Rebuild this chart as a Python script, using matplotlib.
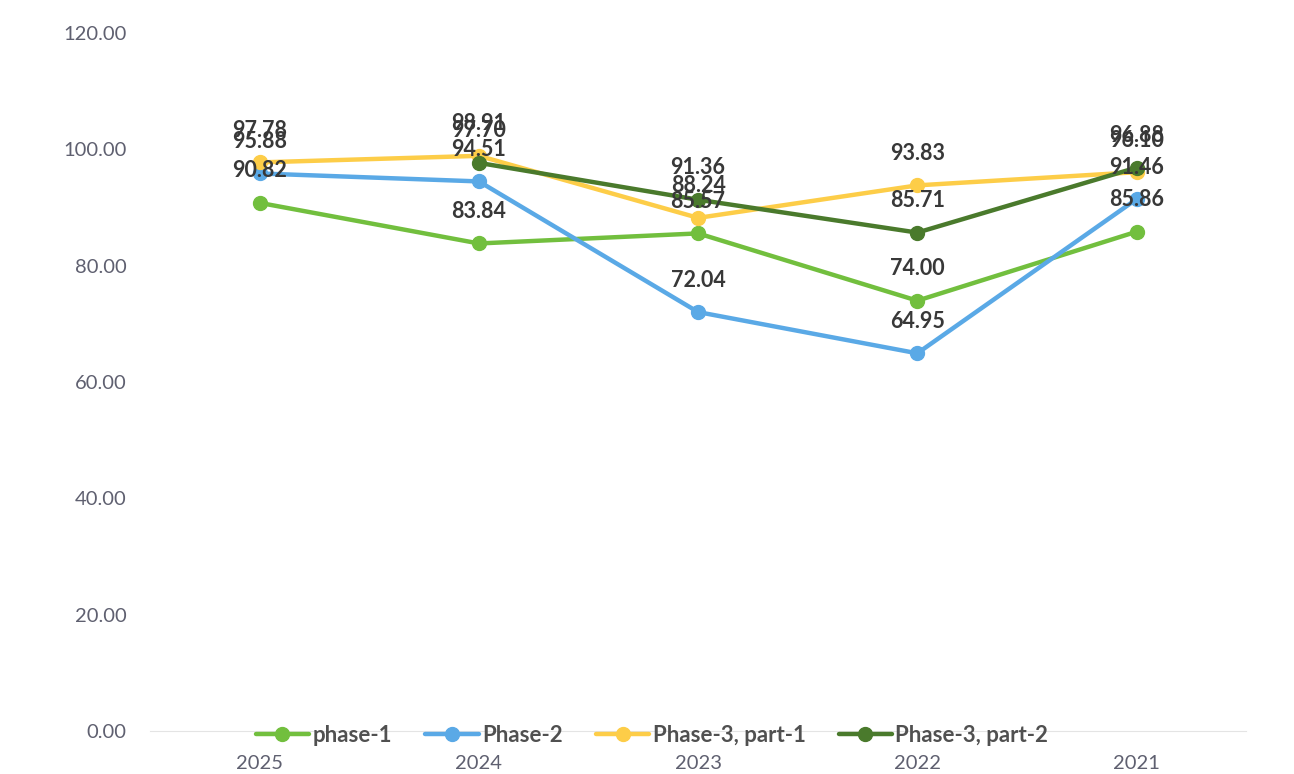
import matplotlib.pyplot as plt
import numpy as np

# chart data
years = ['2025', '2024', '2023', '2022', '2021']
phase_1 = [90.82, 83.84, 85.57, 74.00, 85.86]
phase_2 = [95.88, 94.51, 72.04, 64.95, 91.46]
phase_3_part_1 = [97.78, 98.91, 88.24, 93.83, 96.10]
phase_3_part_2 = [np.nan, 97.70, 91.36, 85.71, 96.88]

series = [
    ('phase-1', phase_1, '#72bf3e'),
    ('Phase-2', phase_2, '#5aa9e6'),
    ('Phase-3, part-1', phase_3_part_1, '#fdcd48'),
    ('Phase-3, part-2', phase_3_part_2, '#4a7a2c'),
]

fig = plt.figure(figsize=(12.94, 7.74), dpi=100)
ax = fig.add_axes([0.116, 0.0556, 0.847, 0.9015])

x = np.arange(len(years))
for name, vals, color in series:
    ax.plot(x, vals, color=color, linewidth=3.2, marker='o', markersize=10,
            label=name, solid_capstyle='round')

# data labels drawn after the lines so they sit on top
for name, vals, color in series:
    for xi, v in zip(x, vals):
        if np.isnan(v):
            continue
        ax.annotate(f'{v:.2f}', (xi, v), xytext=(0, 23), textcoords='offset points',
                    ha='center', va='center', fontsize=15.5, fontweight='bold',
                    color='#383838', family='Lato')

ax.set_xlim(-0.5, len(years) - 0.5)
ax.set_ylim(0, 120)
ax.set_xticks(x)
ax.set_xticklabels(years)
ax.set_yticks(np.arange(0, 121, 20))
ax.set_yticklabels([f'{t:.2f}' for t in np.arange(0, 121, 20)])
ax.tick_params(length=0, labelsize=14.5, colors='#5f6070')
ax.tick_params(axis='y', pad=17)
ax.tick_params(axis='x', pad=17)
for lbl in ax.get_xticklabels() + ax.get_yticklabels():
    lbl.set_family('Lato')

for s in ['top', 'right', 'left']:
    ax.spines[s].set_visible(False)
ax.spines['bottom'].set_color('#e4e4e4')

leg = ax.legend(loc='lower center', bbox_to_anchor=(0.458, -0.05), ncol=4, frameon=False,
                handlelength=2.4, columnspacing=1.5, handletextpad=0.15,
                prop={'family': 'Lato', 'size': 16, 'weight': 'bold'})
for t in leg.get_texts():
    t.set_color('#505050')

fig.savefig('out.png', dpi=100)
